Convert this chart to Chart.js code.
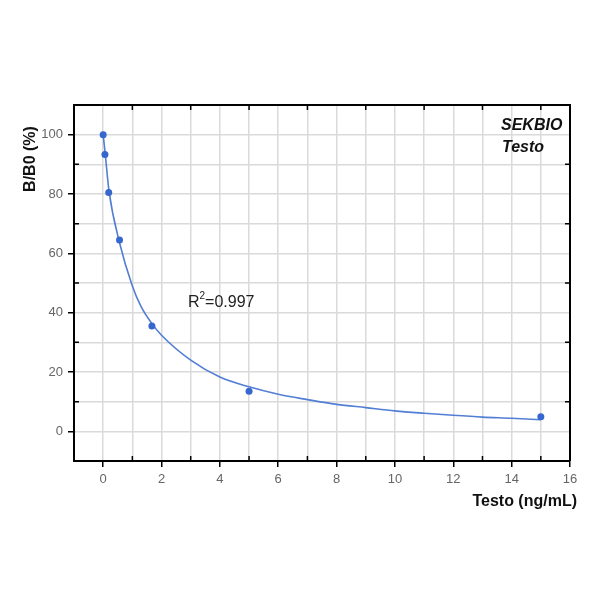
<!DOCTYPE html>
<html><head><meta charset="utf-8">
<script src="https://cdn.jsdelivr.net/npm/chart.js@4/dist/chart.umd.min.js"></script>
<style>html,body{margin:0;padding:0;background:#fff}#wrap{width:600px;height:600px}</style>
</head><body><div id="wrap"><canvas id="c" width="600" height="600"></canvas></div>
<script>
// Standard points (Testo ng/mL vs B/B0 %)
const standardConc = [0, 0.06, 0.19, 0.56, 1.67, 5, 15];
const bb0Percent = [100, 93.3, 80.5, 64.5, 35.5, 13.5, 4.9];
// Fitted curve
const fitConc = [0, 0.07, 0.2, 0.55, 1, 1.3, 1.67, 2, 3, 4, 5, 6, 7, 8, 9, 10, 11, 12, 13, 14, 15];
const fitPercent = [100, 93.5, 81, 64, 49, 42, 36.3, 32.4, 24.0, 18.3, 15.0, 12.5, 10.7, 9.1, 8.0, 6.9, 6.1, 5.4, 4.8, 4.4, 3.9];
// Tick labels
const xTickLabels = [0, 2, 4, 6, 8, 10, 12, 14, 16];
const yTickLabels = [0, 20, 40, 60, 80, 100];
const xTitle = 'Testo (ng/mL)';
const yTitle = 'B/B0 (%)';
const brandLines = ['SEKBIO', 'Testo'];
const r2Parts = ['R', '2', '=0.997'];

const FONT = '"Liberation Sans", Arial, sans-serif';
const pointsData = standardConc.map((x, i) => ({x, y: bb0Percent[i]}));
const curveData = fitConc.map((x, i) => ({x, y: fitPercent[i]}));

const decor = {
  id: 'decor',
  afterDraw(chart) {
    const ctx = chart.ctx, a = chart.chartArea;
    const xs = chart.scales.x, ys = chart.scales.y;
    ctx.save();
    // top & right border
    ctx.strokeStyle = '#000'; ctx.lineWidth = 2;
    ctx.beginPath();
    ctx.moveTo(a.left, a.top); ctx.lineTo(a.right, a.top); ctx.lineTo(a.right, a.bottom);
    ctx.stroke();
    // inward minor ticks
    ctx.lineWidth = 1.5;
    ctx.beginPath();
    for (let v = 1; v < 16; v += 2) {
      const px = xs.getPixelForValue(v);
      ctx.moveTo(px, a.bottom); ctx.lineTo(px, a.bottom - 5);
      ctx.moveTo(px, a.top); ctx.lineTo(px, a.top + 5);
    }
    for (let v = 10; v < 110; v += 20) {
      const py = ys.getPixelForValue(v);
      ctx.moveTo(a.left, py); ctx.lineTo(a.left + 5, py);
      ctx.moveTo(a.right, py); ctx.lineTo(a.right - 5, py);
    }
    ctx.stroke();
    // axis titles
    ctx.fillStyle = '#111';
    ctx.font = 'bold 16px ' + FONT;
    ctx.textAlign = 'right'; ctx.textBaseline = 'alphabetic';
    ctx.fillText(xTitle, 577, 506);
    ctx.save();
    ctx.translate(35, 159); ctx.rotate(-Math.PI / 2);
    ctx.textAlign = 'center';
    ctx.fillText(yTitle, 0, 0);
    ctx.restore();
    // brand
    ctx.textAlign = 'left';
    ctx.font = 'italic bold 16px ' + FONT;
    ctx.fillText(brandLines[0], 501, 130);
    ctx.fillText(brandLines[1], 502, 152);
    // R2
    ctx.fillStyle = '#222';
    ctx.textAlign = 'left';
    let x0 = 188;
    ctx.font = '16px ' + FONT;
    ctx.fillText(r2Parts[0], x0, 307);
    x0 += ctx.measureText(r2Parts[0]).width;
    ctx.font = '10px ' + FONT;
    ctx.fillText(r2Parts[1], x0, 299);
    x0 += ctx.measureText(r2Parts[1]).width;
    ctx.font = '16px ' + FONT;
    ctx.fillText(r2Parts[2], x0, 307);
    ctx.restore();
  }
};

new Chart(document.getElementById('c'), {
  type: 'scatter',
  data: {
    datasets: [
      { label: 'points', data: pointsData, order: 0, showLine: false,
        pointRadius: 3.5, pointHoverRadius: 3.5, pointBackgroundColor: '#3567cf', pointBorderColor: '#3567cf', pointBorderWidth: 0 },
      { label: 'fit', data: curveData, order: 1, showLine: true, pointRadius: 0,
        borderColor: '#527ed4', borderWidth: 1.6, cubicInterpolationMode: 'monotone', fill: false }
    ]
  },
  plugins: [decor],
  options: {
    responsive: false, animation: false, devicePixelRatio: 1,
    layout: { padding: { left: 0, right: 30, top: 105, bottom: 0 } },
    plugins: { legend: { display: false }, tooltip: { enabled: false } },
    scales: {
      x: {
        type: 'linear', min: -1, max: 16,
        afterFit(s) { s.height = 139; },
        ticks: { stepSize: 1, autoSkip: false, maxRotation: 0, padding: 5, color: '#666',
          font: { family: FONT, size: 13 },
          callback: v => xTickLabels.includes(v) ? String(v) : '' },
        grid: { color: '#dadada', lineWidth: 1.5, tickLength: 6, drawTicks: true,
          tickColor: c => (c.tick && xTickLabels.includes(c.tick.value)) ? '#000' : 'rgba(0,0,0,0)', tickWidth: 1.5 },
        border: { display: true, color: '#000', width: 2 }
      },
      y: {
        type: 'linear', min: -10, max: 110,
        afterFit(s) { s.width = 74; },
        ticks: { stepSize: 10, autoSkip: false, padding: 5, color: '#666',
          font: { family: FONT, size: 13 },
          callback: v => yTickLabels.includes(v) ? String(v) : '' },
        grid: { color: '#dadada', lineWidth: 1.5, tickLength: 6, drawTicks: true,
          tickColor: c => (c.tick && yTickLabels.includes(c.tick.value)) ? '#000' : 'rgba(0,0,0,0)', tickWidth: 1.5 },
        border: { display: true, color: '#000', width: 2 }
      }
    }
  }
});
</script></body></html>
